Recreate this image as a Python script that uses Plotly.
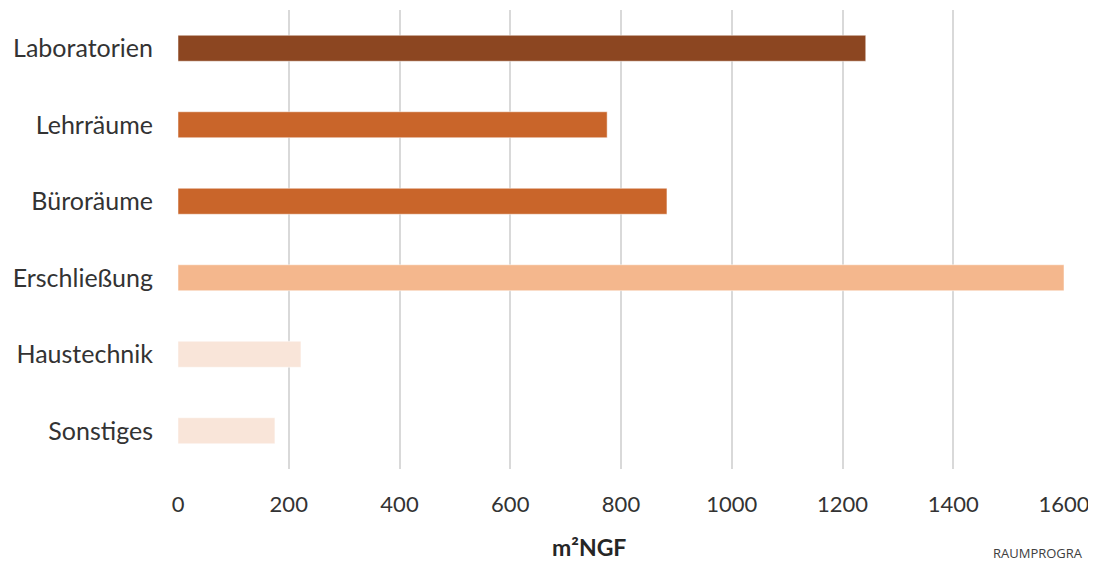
import plotly.graph_objects as go

categories = ["Laboratorien", "Lehrräume", "Büroräume", "Erschließung", "Haustechnik", "Sonstiges"]
values = [1242, 775, 883, 1600, 222, 175]
colors = ["#8C4621", "#C9652A", "#C9652A", "#F4B78D", "#F9E5D9", "#F9E5D9"]
x_ticks = [0, 200, 400, 600, 800, 1000, 1200, 1400, 1600]
x_title = "m²NGF"
footer = "RAUMPROGRA"

# page has an 8px body margin; figure is sized so the plot lands at the reference pixels
OFF = 8
W, H = 1096 - OFF, 561 - OFF
L, R, T, B = 178 - OFF, 32, 10 - OFF, 92
pw, ph = W - L - R, H - T - B
plot_bottom_px = 10 + ph  # in window pixels

fig = go.Figure(go.Bar(
    y=categories, x=values, orientation="h",
    marker=dict(color=colors, line=dict(color="rgba(255,255,255,0.5)", width=1)),
    width=0.34,
))

font_family = "Lato, Open Sans, sans-serif"
fig.update_layout(
    width=W, height=H,
    margin=dict(l=L, r=R, t=T, b=B, autoexpand=False),
    paper_bgcolor="white", plot_bgcolor="white",
    showlegend=False,
    font=dict(family=font_family, color="#333333"),
    xaxis=dict(
        range=[0, 1600], tickvals=x_ticks, ticktext=[str(t) for t in x_ticks],
        showgrid=True, gridcolor="#D9D9D9", gridwidth=2,
        zeroline=False, showline=False, automargin=False,
        tickfont=dict(size=22, color="#333333"),
        ticks="outside", ticklen=16, tickcolor="white",
    ),
    yaxis=dict(
        categoryorder="array", categoryarray=categories, autorange="reversed",
        showgrid=False, zeroline=False, showline=False, automargin=False,
        tickfont=dict(size=25, color="#333333"),
        ticks="outside", ticklen=19, tickcolor="white",
    ),
    annotations=[
        dict(text="<b>" + x_title + "</b>", x=(589 - 178) / pw, xref="paper",
             y=-(547 - plot_bottom_px) / ph, yref="paper", showarrow=False,
             font=dict(size=23, color="#262626"),
             xanchor="center", yanchor="middle"),
        dict(text=footer, x=(991 - 178) / pw, xref="paper",
             y=-(553 - plot_bottom_px) / ph, yref="paper", showarrow=False,
             font=dict(size=13, color="#404040", family="Open Sans, sans-serif"),
             xanchor="left", yanchor="middle"),
    ],
)

fig.write_html("out.html")
